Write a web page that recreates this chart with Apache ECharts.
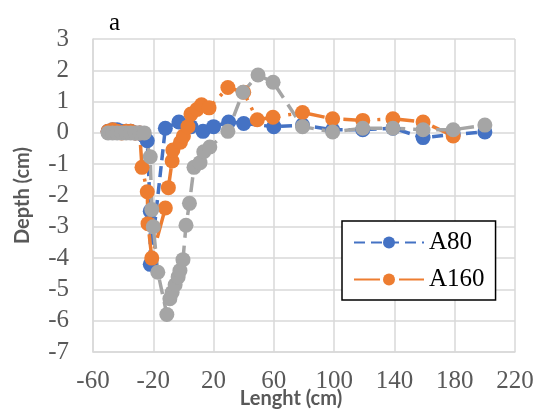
<!DOCTYPE html>
<html>
<head>
<meta charset="utf-8">
<script src="https://cdn.jsdelivr.net/npm/echarts@6/dist/echarts.min.js"></script>
<style>html,body{margin:0;padding:0;background:#fff}#c{width:536px;height:412px}</style>
</head>
<body>
<div id="c"></div>
<script>
const seriesNames = ['A80', 'A160', 'A240'];
const legendNames = ['A80', 'A160'];
const xTicks = { min: -60, max: 220, interval: 40 };
const yTicks = { min: -7, max: 3, interval: 1 };

const a80X = [-50,-47,-44,-41,-38,-35,-32,-29,-26,-24,-22,-22,-12,-3,5,13,20,30,40,60,79,99,119,139,159,179,200];
const a80Y = [0.05,0.1,0.1,0.05,0.05,0.05,0,0,-0.1,-0.25,-2.5,-4.2,0.15,0.35,0.2,0.05,0.2,0.35,0.3,0.2,0.25,0.1,0.1,0.15,-0.15,-0.05,0.03];

const a160X = [-50,-47,-44,-41,-38,-35,-32,-29,-27.5,-24,-23.5,-21,-12,-10,-7.5,-7,-2,0,3,5,9,12,17,29.5,40,49,59.4,79,99,119,139,159,179];
const a160Y = [0.05,0.1,0.05,0,0.05,0.05,0,0,-1.1,-1.88,-2.9,-4.0,-2.4,-1.75,-0.9,-0.55,-0.3,-0.1,0.2,0.6,0.75,0.9,0.8,1.45,1.3,0.42,0.5,0.65,0.45,0.4,0.45,0.35,-0.1];

const a240X = [-50,-47,-44,-41,-38,-35,-32,-29,-26,-22,-21,-20,-17,-11,-9,-7.5,-5.5,-3.5,-2.3,-0.3,1.7,4,7,11,13.5,17.5,29.5,39.5,49.5,59.5,79,99,119,139,159,179,200];
const a240Y = [0,0,0,0,0,0,0,0,0,-0.76,-2.45,-3.0,-4.45,-5.8,-5.3,-5.1,-4.85,-4.6,-4.4,-4.05,-2.95,-2.25,-1.1,-0.95,-0.6,-0.45,0.05,1.3,1.85,1.62,0.2,0.03,0.15,0.15,0.1,0.1,0.25];

const colors = ['#4472C4', '#ED7D31', '#A5A5A5'];
const dashes = [[11, 6], [26, 8, 3, 8], [15, 8]];

function pairs(xs, ys) { return xs.map((x, i) => [x, ys[i]]); }
const allData = [pairs(a80X, a80Y), pairs(a160X, a160Y), pairs(a240X, a240Y)];

const chart = echarts.init(document.getElementById('c'), null, { renderer: 'canvas' });
const serif = 'Liberation Serif';
chart.setOption({
  animation: false,
  backgroundColor: '#fff',
  title: { text: 'a', left: 104, top: 6, textStyle: { fontFamily: serif, fontSize: 25, fontWeight: 'normal', color: '#000' } },
  grid: { left: 93, right: 21, top: 39, bottom: 60, containLabel: false, outerBoundsMode: 'none' },
  legend: {
    data: legendNames, orient: 'vertical', left: 342, top: 221,
    padding: [9, 11, 8, 11], itemGap: 12, itemWidth: 70, itemHeight: 15, itemTextGap: 7,
    backgroundColor: '#fff', borderColor: '#000', borderWidth: 1.5,
    textStyle: { fontFamily: serif, fontSize: 25, color: '#000' }
  },
  xAxis: {
    type: 'value', min: xTicks.min, max: xTicks.max, interval: xTicks.interval,
    name: 'Lenght (cm)', nameLocation: 'middle', nameGap: 37, nameMoveOverlap: false,
    nameTextStyle: { fontFamily: 'Lato', fontWeight: 'bold', fontSize: 20, color: '#595959', padding: [0, 26, 0, 0] },
    axisLine: { show: true, onZero: false, lineStyle: { color: '#d9d9d9', width: 1.5 } },
    axisTick: { show: false },
    axisLabel: { fontFamily: serif, fontSize: 25, color: '#595959', margin: 17 },
    splitLine: { show: true, lineStyle: { color: '#d9d9d9', width: 1.5 } }
  },
  yAxis: {
    type: 'value', min: yTicks.min, max: yTicks.max, interval: yTicks.interval,
    name: 'Depth (cm)', nameLocation: 'middle', nameGap: 60, nameMoveOverlap: false,
    nameTextStyle: { fontFamily: 'Lato', fontWeight: 'bold', fontSize: 20, color: '#595959' },
    axisLine: { show: true, onZero: false, lineStyle: { color: '#d9d9d9', width: 1.5 } },
    axisTick: { show: false },
    axisLabel: { fontFamily: serif, fontSize: 25, color: '#595959', margin: 24 },
    splitLine: { show: true, lineStyle: { color: '#d9d9d9', width: 1.5 } }
  },
  series: seriesNames.map((n, i) => ({
    name: n, type: 'line', data: allData[i],
    symbol: 'circle', symbolSize: 15,
    itemStyle: { color: colors[i] },
    lineStyle: { color: colors[i], width: 3.5, type: dashes[i] }
  }))
});
</script>
</body>
</html>
